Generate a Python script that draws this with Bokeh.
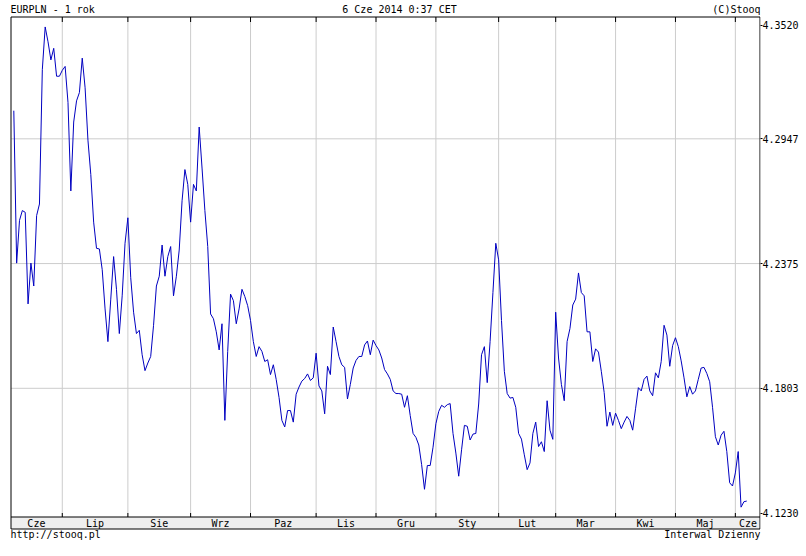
from bokeh.plotting import figure
from bokeh.models import Range1d, LinearAxis, FixedTicker
from bokeh.core.properties import value
from bokeh.embed import file_html
from bokeh.resources import INLINE

# ---------------- data ----------------
eurpln = [
    4.3076, 4.2377, 4.2573, 4.2618, 4.2610, 4.2190, 4.2377, 4.2272, 4.2595, 4.2648,
    4.3264, 4.3460, 4.3392, 4.3309, 4.3362, 4.3234, 4.3234, 4.3261, 4.3279, 4.3114,
    4.2708, 4.3024, 4.3121, 4.3159, 4.3317, 4.3181, 4.2941, 4.2783, 4.2565, 4.2445,
    4.2442, 4.2347, 4.2167, 4.2017, 4.2212, 4.2407, 4.2257, 4.2054, 4.2227, 4.2468,
    4.2585, 4.2310, 4.2152, 4.2054, 4.2069, 4.1957, 4.1884, 4.1919, 4.1949, 4.2092,
    4.2272, 4.2317, 4.2460, 4.2317, 4.2407, 4.2453, 4.2227, 4.2317, 4.2437, 4.2663,
    4.2806, 4.2738, 4.2565, 4.2738, 4.2708, 4.3001, 4.2813, 4.2618, 4.2453, 4.2144,
    4.2122, 4.2062, 4.1979, 4.2099, 4.1656, 4.1972, 4.2235, 4.2205, 4.2099, 4.2167,
    4.2257, 4.2224, 4.2182, 4.2114, 4.2017, 4.1949, 4.1994, 4.1972, 4.1926, 4.1934,
    4.1866, 4.1911, 4.1844, 4.1761, 4.1656, 4.1626, 4.1701, 4.1701, 4.1648, 4.1776,
    4.1809, 4.1836, 4.1848, 4.1869, 4.1839, 4.1851, 4.1964, 4.1814, 4.1791, 4.1686,
    4.1904, 4.1866, 4.2084, 4.2017, 4.1949, 4.1911, 4.1899, 4.1754, 4.1821, 4.1896,
    4.1931, 4.1949, 4.1949, 4.2002, 4.2020, 4.1957, 4.2024, 4.1999, 4.1979, 4.1942,
    4.1889, 4.1869, 4.1844, 4.1791, 4.1779, 4.1779, 4.1776, 4.1716, 4.1769, 4.1678,
    4.1596, 4.1578, 4.1543, 4.1453, 4.1340, 4.1449, 4.1449, 4.1533, 4.1641, 4.1697,
    4.1725, 4.1716, 4.1728, 4.1733, 4.1596, 4.1506, 4.1400, 4.1521, 4.1633, 4.1629,
    4.1566, 4.1593, 4.1596, 4.1731, 4.1957, 4.1994, 4.1829, 4.2017, 4.2242, 4.2468,
    4.2392, 4.2114, 4.1881, 4.1779, 4.1758, 4.1761, 4.1716, 4.1596, 4.1570, 4.1498,
    4.1430, 4.1461, 4.1596, 4.1648, 4.1536, 4.1558, 4.1513, 4.1746, 4.1611, 4.1569,
    4.2152, 4.1942, 4.1821, 4.1746, 4.2017, 4.2077, 4.2185, 4.2212, 4.2332, 4.2242,
    4.2227, 4.2062, 4.2062, 4.1926, 4.1984, 4.1969, 4.1881, 4.1784, 4.1629, 4.1694,
    4.1633, 4.1689, 4.1656, 4.1618, 4.1648, 4.1674, 4.1656, 4.1611, 4.1709, 4.1806,
    4.1791, 4.1844, 4.1859, 4.1791, 4.1769, 4.1874, 4.1851, 4.1926, 4.2092, 4.2047,
    4.1904, 4.1999, 4.2035, 4.1994, 4.1929, 4.1851, 4.1764, 4.1811, 4.1776, 4.1791,
    4.1844, 4.1896, 4.1899, 4.1871, 4.1833, 4.1716, 4.1581, 4.1543, 4.1588, 4.1606,
    4.1513, 4.1370, 4.1355, 4.1415, 4.1513, 4.1258, 4.1283, 4.1286,
]
day_index = list(range(len(eurpln)))

month_labels = ["Cze", "Lip", "Sie", "Wrz", "Paz", "Lis", "Gru",
                "Sty", "Lut", "Mar", "Kwi", "Maj", "Cze"]
month_start_idx = [17, 40, 62, 83, 106, 127, 148, 170, 190, 211, 232, 253]

y_tick_values = [4.3520, 4.2947, 4.2375, 4.1803, 4.1230]
grid_values = [4.2947, 4.2375, 4.1803]

title_left = "EURPLN - 1 rok"
title_center = "6 Cze 2014 0:37 CET"
title_right = "(C)Stooq"
footer_left = "http://stooq.pl"
footer_right = "Interwal Dzienny"

# ---------------- layout (pixels) ----------------
FW, FH = 760, 540
BOX_L, BOX_R = 10.5, 759.5
BOX_TOP, STRIP_TOP, BOX_BOTTOM = 16.5, 516.5, 528.5
FONT = value("DejaVu Sans Mono")
FS = "10px"

# index <-> pixel mapping
PX_PER_DAY = 2.852
X0 = 13.3  # pixel of index 0
idx_start = -X0 / PX_PER_DAY
idx_end = (FW - X0) / PX_PER_DAY
box_idx_l = (10 - X0) / PX_PER_DAY

# value <-> pixel mapping: value at box top and at strip top
v_top_box = 4.35056
v_strip = 4.12129
K = (v_top_box - v_strip) / (STRIP_TOP - BOX_TOP)
val_top = v_top_box + BOX_TOP * K
val_bot = v_strip - (FH - STRIP_TOP) * K

p = figure(frame_width=FW, frame_height=FH,
           x_range=Range1d(0, FW), y_range=Range1d(FH, 0),
           x_axis_location=None, y_axis_location=None,
           toolbar_location=None, output_backend="svg",
           min_border_left=0, min_border_right=38,
           min_border_top=0, min_border_bottom=0,
           background_fill_color="white", border_fill_color="white",
           outline_line_color=None)
p.extra_x_ranges = {"idx": Range1d(idx_start, idx_end)}
p.extra_y_ranges = {"val": Range1d(val_bot, val_top)}
p.xgrid.visible = False
p.ygrid.visible = False

# month strip background
p.quad(left=BOX_L, right=BOX_R, top=STRIP_TOP, bottom=BOX_BOTTOM,
       fill_color="#eeeeee", line_color=None)

# horizontal grid lines
p.segment(x0=[BOX_L] * len(grid_values), x1=[BOX_R] * len(grid_values),
          y0=grid_values, y1=grid_values, y_range_name="val",
          line_color="#cccccc", line_width=1)

# vertical month grid lines
n = len(month_start_idx)
p.segment(x0=month_start_idx, x1=month_start_idx,
          y0=[BOX_TOP] * n, y1=[STRIP_TOP] * n,
          x_range_name="idx", line_color="#cccccc", line_width=1)
# small black ticks at the top and at the bottom of each month line
p.segment(x0=month_start_idx, x1=month_start_idx,
          y0=[BOX_TOP] * n, y1=[BOX_TOP + 5] * n,
          x_range_name="idx", line_color="black", line_width=1)
p.segment(x0=month_start_idx, x1=month_start_idx,
          y0=[STRIP_TOP - 4] * n, y1=[STRIP_TOP] * n,
          x_range_name="idx", line_color="black", line_width=1)

# price line
p.line(x=day_index, y=eurpln, x_range_name="idx", y_range_name="val",
       line_color="#0000c0", line_width=1)

# chart box
p.segment(x0=[BOX_L, BOX_R, BOX_L, BOX_L, BOX_L], x1=[BOX_L, BOX_R, BOX_R, BOX_R, BOX_R],
          y0=[BOX_TOP, BOX_TOP, BOX_TOP, STRIP_TOP, BOX_BOTTOM],
          y1=[BOX_BOTTOM, BOX_BOTTOM, BOX_TOP, STRIP_TOP, BOX_BOTTOM],
          line_color="black", line_width=1)

# month labels centred in each month segment
bounds = [box_idx_l] + month_start_idx + [(760 - X0) / PX_PER_DAY]
month_centers = [(bounds[i] + bounds[i + 1]) / 2 for i in range(len(month_labels))]
p.text(x=month_centers, y=[522.5] * len(month_labels), text=month_labels,
       x_range_name="idx", text_align="center", text_baseline="middle",
       text_font=FONT, text_font_size=FS, text_color="black")

# header and footer texts
p.text(x=[10, 399, 760], y=[9, 9, 9], text=[title_left, title_center, title_right],
       text_align=["left", "center", "right"], text_baseline="middle",
       text_font=FONT, text_font_size=FS, text_color="black")
p.text(x=[10, 760], y=[534, 534], text=[footer_left, footer_right],
       text_align=["left", "right"], text_baseline="middle",
       text_font=FONT, text_font_size=FS, text_color="black")

# right value axis
label_top_limit = val_top - 24.5 * K
tick_pos = [min(v, label_top_limit) for v in y_tick_values]
axis = LinearAxis(y_range_name="val", ticker=FixedTicker(ticks=tick_pos))
axis.major_label_overrides = {t: f"{v:.4f}" for t, v in zip(tick_pos, y_tick_values)}
axis.axis_line_color = None
axis.major_tick_out = 2
axis.major_tick_in = 0
axis.minor_tick_line_color = None
axis.major_tick_line_color = "black"
axis.major_label_standoff = 0
axis.major_label_text_font = "DejaVu Sans Mono"
axis.major_label_text_font_size = FS
axis.major_label_text_color = "black"
p.add_layout(axis, "right")

open("out.html", "w").write(file_html(p, INLINE))
